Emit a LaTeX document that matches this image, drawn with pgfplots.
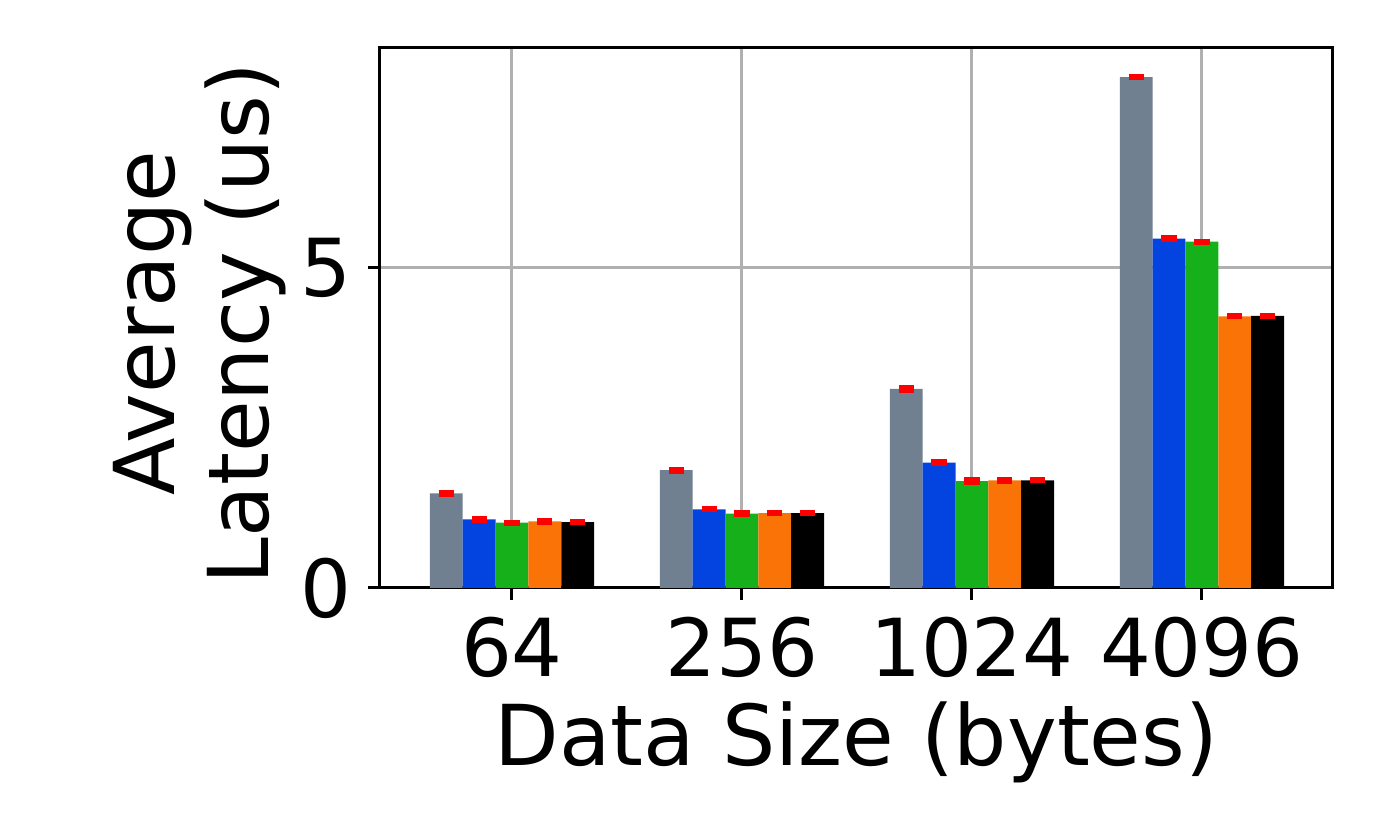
\documentclass[border=0pt]{standalone}
\usepackage{pgfplots}
\pgfplotsset{compat=1.18}
\usepackage{fontspec}
\setmainfont{DejaVu Sans}
\definecolor{cgray}{HTML}{708090}
\definecolor{cblue}{HTML}{0343DF}
\definecolor{cgreen}{HTML}{15B01A}
\definecolor{corange}{HTML}{F97306}
\definecolor{gridgray}{RGB}{176,176,176}
\begin{document}
\begin{tikzpicture}
\useasboundingbox (0,0) rectangle (346pt,207.5pt);
\begin{axis}[
  at={(95pt,60.5pt)}, anchor=south west,
  width=238.25pt, height=135pt, scale only axis,
  xmin=-0.574, xmax=3.570, ymin=0, ymax=8.4375,
  ybar=0pt, bar width=0.142857,
  xtick={0,1,2,3}, xticklabels={64,256,1024,4096},
  ytick={0,5},
  xtick pos=bottom, ytick pos=left,
  tick align=outside, major tick length=3pt,
  tick style={black, line width=0.75pt},
  axis line style={black, line width=0.75pt},
  grid=major, major grid style={gridgray, line width=0.75pt},
  tick label style={font=\fontsize{20}{24}\selectfont},
  /pgf/number format/assume math mode=true,
  xticklabel style={inner sep=0pt, yshift=-4pt},
  yticklabel style={inner sep=0pt, xshift=-4pt},
  xlabel={Data Size (bytes)},
  xlabel style={font=\fontsize{21}{25}\selectfont, at={(axis description cs:0.5,-0.328)}, anchor=base, inner sep=0pt},
  ylabel={Average\\Latency (us)},
  ylabel style={font=\fontsize{21}{23.5}\selectfont, align=center, at={(axis description cs:-0.0976,0.49)}, anchor=south, inner sep=0pt},
  every axis plot/.append style={draw=none,
    error bars/y dir=both, error bars/y explicit,
    error bars/error bar style={red, line width=1pt},
    error bars/error mark options={red, line width=1.2pt, mark size=1.9pt, rotate=90}},
]
\addplot[fill=cgray] coordinates {(0,1.48) +- (0,0.02) (1,1.84) +- (0,0.02) (2,3.11) +- (0,0.03) (3,7.98) +- (0,0.01)};
\addplot[fill=cblue] coordinates {(0,1.07) +- (0,0.01) (1,1.23) +- (0,0.01) (2,1.96) +- (0,0.01) (3,5.46) +- (0,0.02)};
\addplot[fill=cgreen] coordinates {(0,1.02) +- (0,0.01) (1,1.16) +- (0,0.02) (2,1.67) +- (0,0.02) (3,5.41) +- (0,0.01)};
\addplot[fill=corange] coordinates {(0,1.04) +- (0,0.02) (1,1.17) +- (0,0.01) (2,1.68) +- (0,0.02) (3,4.245) +- (0,0.01)};
\addplot[fill=black] coordinates {(0,1.03) +- (0,0.01) (1,1.17) +- (0,0.01) (2,1.68) +- (0,0.01) (3,4.25) +- (0,0.01)};
\end{axis}
\end{tikzpicture}
\end{document}
